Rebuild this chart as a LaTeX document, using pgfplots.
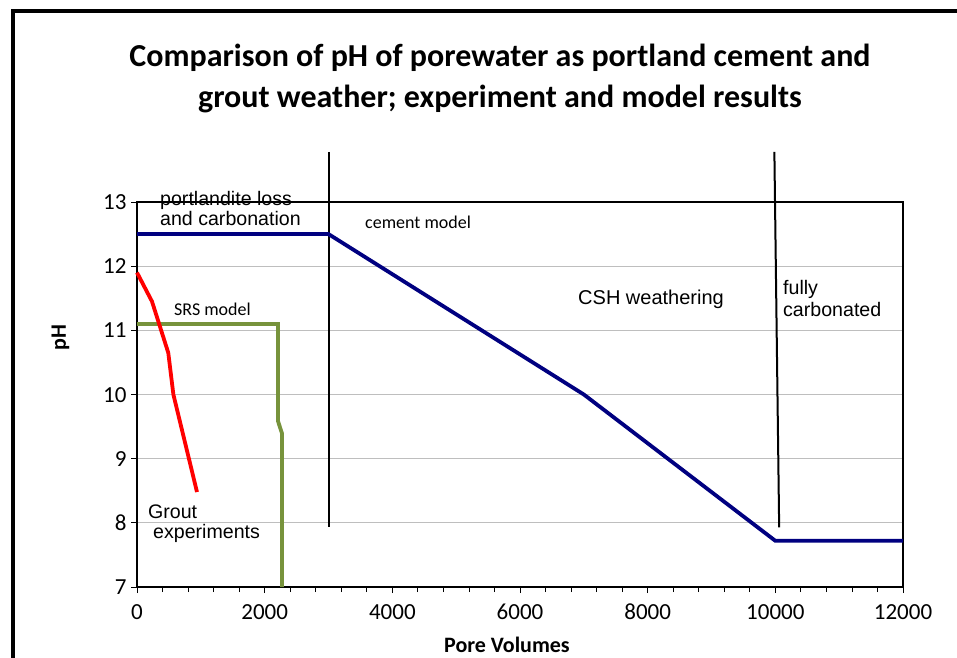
\documentclass[border=0pt]{standalone}
\usepackage{fontspec}
\setmainfont{Carlito}
\newfontfamily\arial{Liberation Sans}
\usepackage{pgfplots}
\pgfplotsset{compat=1.18}
\definecolor{navyline}{RGB}{0,0,128}
\definecolor{srsgreen}{RGB}{119,147,60}
\definecolor{gridgray}{RGB}{190,190,190}
\begin{document}
\begin{tikzpicture}
\useasboundingbox (0,0) rectangle (957bp,658bp);
\draw[line width=4bp] (12.5bp,-5bp) -- (12.5bp,646.5bp) -- (965bp,646.5bp);
\node[font=\bfseries\fontsize{32bp}{38bp}\selectfont] at (500bp,600bp) {Comparison of pH of porewater as portland cement and};
\node[font=\bfseries\fontsize{32bp}{38bp}\selectfont] at (500bp,559bp) {grout weather; experiment and model results};
\begin{axis}[
  at={(137bp,71bp)}, anchor=south west,
  scale only axis, width=766bp, height=385bp,
  xmin=0, xmax=12000, ymin=7, ymax=13,
  xtick={0,2000,4000,6000,8000,10000,12000},
  ytick={7,8,9,10,11,12,13},
  scaled x ticks=false,
  minor x tick num=4,
  xtick pos=bottom, ytick pos=left,
  tick align=outside,
  major tick length=6bp, minor tick length=5bp,
  tick style={black, line width=0.8bp},
  axis line style={black, line width=1.5bp},
  ymajorgrids, grid style={gridgray, line width=1.3bp},
  /pgf/number format/assume math mode=true,
  /pgf/number format/1000 sep={},
  ticklabel style={font=\fontsize{23bp}{27bp}\selectfont},
  xticklabel style={yshift=-8bp, text height=15bp, text depth=0bp},
  yticklabel style={xshift=-1bp, text height=15bp, text depth=0bp},
  xlabel={Pore Volumes}, ylabel={pH},
  every axis x label/.style={at={(axis description cs:0.483,-0.151)}, anchor=center, font=\bfseries\fontsize{22bp}{26bp}\selectfont},
  every axis y label/.style={at={(axis description cs:-0.1,0.647)}, rotate=90, anchor=center, font=\bfseries\fontsize{22bp}{26bp}\selectfont},
  clip=false,
]
\addplot[black, line width=2bp] coordinates {(3000,13.78) (3000,7.935)};
\addplot[black, line width=2bp] coordinates {(9985,13.78) (10060,7.93)};
\addplot[navyline, line width=3.8bp] coordinates {(0,12.5) (3000,12.5) (7000,10) (10000,7.72) (12000,7.72)};
\addplot[srsgreen, line width=3.8bp] coordinates {(0,11.1) (2210,11.1) (2210,9.58) (2270,9.4) (2270,7)};
\addplot[red, line width=3.8bp] coordinates {(0,11.9) (235,11.45) (490,10.65) (570,10.0) (940,8.48)};
\node[font=\arial\fontsize{19.6bp}{22bp}\selectfont, anchor=west, inner sep=0] at (axis cs:360,13.03) {portlandite loss};
\node[font=\arial\fontsize{19.6bp}{22bp}\selectfont, anchor=west, inner sep=0] at (axis cs:360,12.75) {and carbonation};
\node[font=\fontsize{18bp}{22bp}\selectfont, anchor=west, inner sep=0] at (axis cs:3572,12.69) {cement model};
\node[font=\fontsize{18bp}{22bp}\selectfont, anchor=west, inner sep=0] at (axis cs:580,11.33) {SRS model};
\node[font=\arial\fontsize{20bp}{22bp}\selectfont, anchor=west, inner sep=0] at (axis cs:6909,11.49) {CSH weathering};
\node[font=\arial\fontsize{19.6bp}{22bp}\selectfont, anchor=west, inner sep=0] at (axis cs:10120,11.64) {fully};
\node[font=\arial\fontsize{19.6bp}{22bp}\selectfont, anchor=west, inner sep=0] at (axis cs:10120,11.32) {carbonated};
\node[font=\arial\fontsize{19.6bp}{22bp}\selectfont, anchor=west, inner sep=0] at (axis cs:172,8.17) {Grout};
\node[font=\arial\fontsize{19.6bp}{22bp}\selectfont, anchor=west, inner sep=0] at (axis cs:251,7.84) {experiments};
\end{axis}
\end{tikzpicture}
\end{document}
